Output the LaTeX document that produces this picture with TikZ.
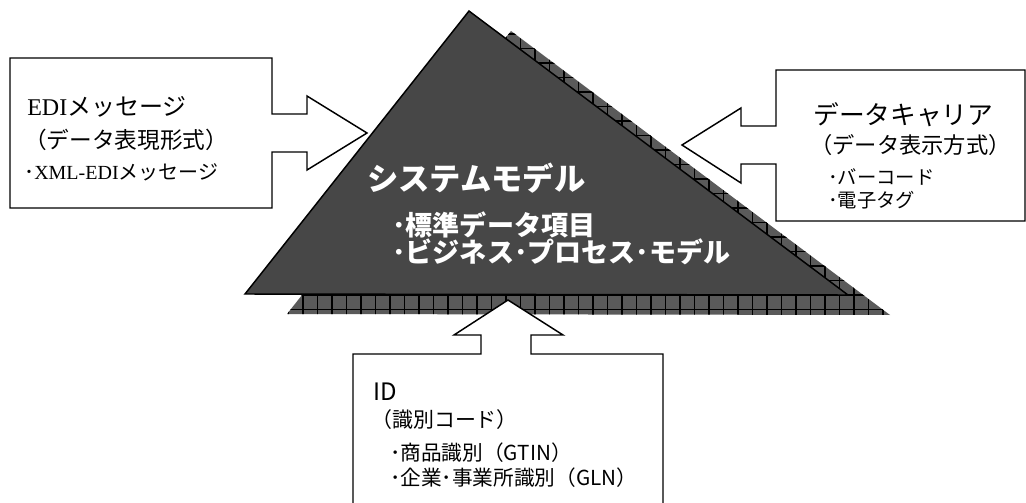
\documentclass[tikz,border=0pt]{standalone}
\usepackage{fontspec}
\newfontfamily\jp{Noto Sans CJK JP}
\newfontfamily\tms{Liberation Serif}
\definecolor{maingray}{HTML}{474747}
\definecolor{shadowgray}{HTML}{5A5A5A}
\tikzset{
  outline/.style={draw=black,line width=1.1pt,line join=miter},
  arrowbox/.style={outline,fill=white},
  txt/.style={anchor=west,inner sep=0pt,text=black},
  wtxt/.style={anchor=west,inner sep=0pt,text=white},
}
\begin{document}
\begin{tikzpicture}[x=0.75pt,y=-0.75pt]
\useasboundingbox (0,0) rectangle (1026,503);
% shadow triangle
\coordinate (sA) at (511,31);
\coordinate (sB) at (287,314);
\coordinate (sC) at (890,315);
\fill[shadowgray] (sA) -- (sB) -- (sC) -- cycle;
\begin{scope}
  \clip (sA) -- (sB) -- (sC) -- cycle;
  \foreach \i in {0,...,44} {\draw[black,line width=0.8pt] (274+14.5*\i,20) -- (274+14.5*\i,320);}
  \foreach \j in {0,...,21} {\draw[black,line width=0.8pt] (270,309.5-14.5*\j) -- (900,309.5-14.5*\j);}
\end{scope}
% main triangle
\coordinate (mA) at (469,11);
\coordinate (mB) at (245,294);
\coordinate (mC) at (848,295);
\filldraw[outline,fill=maingray] (mA) -- (mB) -- (mC) -- cycle;
% left box with arrow
\draw[arrowbox] (10,58) -- (272,58) -- (272,114) -- (307,114) -- (307,96) -- (367,133)
  -- (307,170) -- (307,152) -- (272,152) -- (272,208) -- (10,208) -- cycle;
% right box with arrow
\draw[arrowbox] (1025,70) -- (776,70) -- (776,126) -- (741,126) -- (741,108) -- (682,145)
  -- (741,183) -- (741,164) -- (776,164) -- (776,221) -- (1025,221) -- cycle;
% bottom box with arrow
\fill[white] (353,506) -- (353,354) -- (481,354) -- (481,335) -- (454,335) -- (508,300)
  -- (563,335) -- (531,335) -- (531,354) -- (663,354) -- (663,506) -- cycle;
\draw[outline] (353,506) -- (353,354) -- (481,354) -- (481,335) -- (454,335) -- (508,300)
  -- (563,335) -- (531,335) -- (531,354) -- (663,354) -- (663,506);
% left texts
\node[txt] (l1) at (27,107) {\fontsize{18pt}{22pt}\selectfont\tms EDI\jp メッセージ};
\node[txt] (l2) at (24,140) {\fontsize{17pt}{20pt}\selectfont\jp （データ表現形式）};
\node[txt] (l3) at (24,172) {\fontsize{15pt}{18pt}\selectfont\jp ･\tms XML-EDI\jp メッセージ};
% right texts
\node[txt] (r1) at (813,115) {\fontsize{19.3pt}{22pt}\selectfont\jp データキャリア};
\node[txt] (r2) at (810,145) {\fontsize{16.7pt}{20pt}\selectfont\jp （データ表示方式）};
\node[txt] (r3) at (828,177) {\fontsize{14.5pt}{17pt}\selectfont\jp ･バーコード};
\node[txt] (r4) at (828,200) {\fontsize{14.5pt}{17pt}\selectfont\jp ･電子タグ};
% triangle texts
\node[wtxt] (t1) at (367,178) {\fontsize{23.5pt}{27pt}\selectfont\jp\bfseries システムモデル};
\node[wtxt] (t2) at (392,225) {\fontsize{20.3pt}{24pt}\selectfont\jp\bfseries ･標準データ項目};
\node[wtxt] (t3) at (392,252) {\fontsize{20.3pt}{24pt}\selectfont\jp\bfseries ･ビジネス･プロセス･モデル};
% bottom texts
\node[txt] (b1) at (373,392) {\fontsize{18pt}{21pt}\selectfont\jp ID};
\node[txt] (b2) at (371,420) {\fontsize{15.7pt}{19pt}\selectfont\jp （識別コード）};
\node[txt] (b3) at (390,453) {\fontsize{15.5pt}{18pt}\selectfont\jp ･商品識別（GTIN）};
\node[txt] (b4) at (390,478) {\fontsize{15.5pt}{18pt}\selectfont\jp ･企業･事業所識別（GLN）};
\end{tikzpicture}
\end{document}
